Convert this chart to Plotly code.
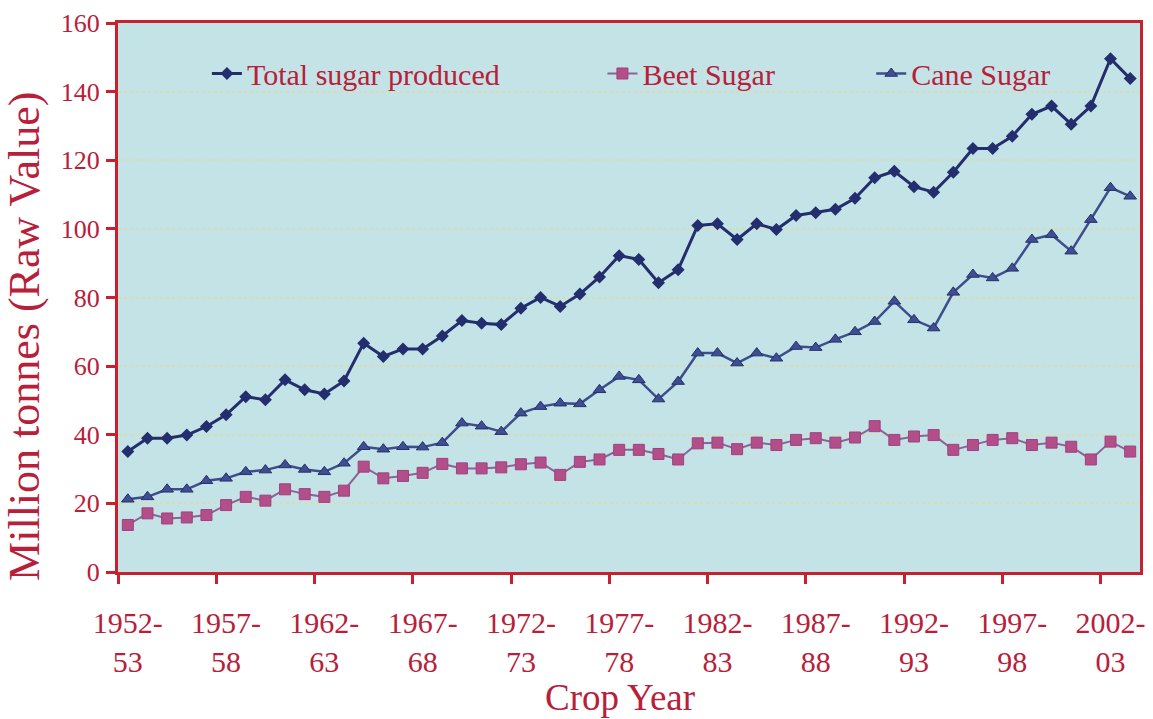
import plotly.graph_objects as go

# ---- data (million tonnes, raw value) ----
crop_years = [
    "1952-53", "1953-54", "1954-55", "1955-56", "1956-57", "1957-58", "1958-59", "1959-60",
    "1960-61", "1961-62", "1962-63", "1963-64", "1964-65", "1965-66", "1966-67", "1967-68",
    "1968-69", "1969-70", "1970-71", "1971-72", "1972-73", "1973-74", "1974-75", "1975-76",
    "1976-77", "1977-78", "1978-79", "1979-80", "1980-81", "1981-82", "1982-83", "1983-84",
    "1984-85", "1985-86", "1986-87", "1987-88", "1988-89", "1989-90", "1990-91", "1991-92",
    "1992-93", "1993-94", "1994-95", "1995-96", "1996-97", "1997-98", "1998-99", "1999-00",
    "2000-01", "2001-02", "2002-03", "2003-04",
]

total_sugar = [
    35.1, 39.0, 39.0, 39.9, 42.4, 45.8, 51.1, 50.2, 56.0, 53.1, 51.9, 55.7, 66.7,
    62.8, 65.0, 65.0, 68.8, 73.3, 72.5, 72.1, 76.9, 80.0, 77.4, 81.0, 86.0, 92.2,
    91.1, 84.3, 88.1, 101.0, 101.5, 96.9, 101.5, 99.8, 103.9, 104.7, 105.7, 108.9,
    114.9, 116.8, 112.3, 110.7, 116.5, 123.4, 123.4, 127.0, 133.4, 135.8, 130.5,
    135.8, 149.6, 143.8,
]

beet_sugar = [
    13.7, 17.1, 15.6, 15.9, 16.6, 19.5, 21.9, 20.8, 24.1, 22.7, 21.9, 23.7, 30.7,
    27.3, 28.0, 28.9, 31.5, 30.2, 30.2, 30.5, 31.4, 31.9, 28.3, 32.1, 32.8, 35.6,
    35.6, 34.4, 32.8, 37.5, 37.7, 35.8, 37.7, 37.0, 38.5, 39.0, 37.7, 39.2, 42.5,
    38.5, 39.5, 39.9, 35.6, 37.0, 38.5, 39.0, 37.0, 37.7, 36.5, 32.8, 38.0, 35.1,
]

cane_sugar = [
    21.2, 21.9, 24.1, 24.1, 26.6, 27.3, 29.2, 29.7, 31.2, 29.9, 29.2, 31.7, 36.5,
    35.8, 36.5, 36.4, 37.7, 43.4, 42.5, 40.9, 46.3, 48.2, 49.2, 49.0, 53.1, 57.0,
    56.0, 50.4, 55.5, 63.8, 63.8, 60.9, 63.8, 62.3, 65.7, 65.4, 67.8, 70.0, 73.0,
    78.9, 73.5, 71.1, 81.5, 86.7, 85.7, 88.5, 96.9, 98.3, 93.5, 102.7, 112.0, 109.5,
]

tick_categories = ["1952-53", "1957-58", "1962-63", "1967-68", "1972-73", "1977-78",
                   "1982-83", "1987-88", "1992-93", "1997-98", "2002-03"]
tick_labels = ["1952-<br>53", "1957-<br>58", "1962-<br>63", "1967-<br>68", "1972-<br>73",
               "1977-<br>78", "1982-<br>83", "1987-<br>88", "1992-<br>93", "1997-<br>98",
               "2002-<br>03"]

y_ticks = [0, 20, 40, 60, 80, 100, 120, 140, 160]

# category positions on a linear axis (one unit per crop year)
x_pos = list(range(len(crop_years)))
label_pos = [crop_years.index(c) for c in tick_categories]
boundary_pos = [p - 0.5 for p in label_pos]  # tick marks sit between categories

# ---- styling ----
FONT = "Liberation Serif, Times New Roman, serif"
RED = "#C8202E"
TEXT_RED = "#B8203A"
BG = "#C4E3E6"

fig = go.Figure()

fig.add_trace(go.Scatter(
    x=x_pos, y=total_sugar, name="Total sugar produced", mode="lines+markers",
    customdata=crop_years, hovertemplate="%{customdata}: %{y}<extra></extra>",
    line=dict(color="#232E6E", width=3),
    marker=dict(symbol="diamond", size=10, color="#232E6E"),
    legend="legend",
))
fig.add_trace(go.Scatter(
    x=x_pos, y=beet_sugar, name="Beet Sugar", mode="lines+markers",
    customdata=crop_years, hovertemplate="%{customdata}: %{y}<extra></extra>",
    line=dict(color="#8A6496", width=2),
    marker=dict(symbol="square", size=11, color="#B24E88",
                line=dict(color="#A04080", width=1)),
    legend="legend2",
))
fig.add_trace(go.Scatter(
    x=x_pos, y=cane_sugar, name="Cane Sugar", mode="lines+markers",
    customdata=crop_years, hovertemplate="%{customdata}: %{y}<extra></extra>",
    line=dict(color="#3E4E8C", width=2.5),
    marker=dict(symbol="triangle-up", size=11, color="#3E4E92",
                line=dict(color="#26306A", width=1)),
    legend="legend3",
))

legend_common = dict(
    orientation="h", yanchor="middle", y=0.908, xanchor="left",
    bgcolor="rgba(0,0,0,0)", borderwidth=0,
    font=dict(family=FONT, size=30, color=TEXT_RED),
)

fig.update_layout(
    width=1153, height=719,
    margin=dict(l=118, r=13, t=23, b=147),
    paper_bgcolor="white",
    plot_bgcolor=BG,
    showlegend=True,
    legend=dict(x=0.087, **legend_common),
    legend2=dict(x=0.474, **legend_common),
    legend3=dict(x=0.737, **legend_common),
    xaxis=dict(
        range=[-0.5, len(crop_years) - 0.5],
        tickmode="array", tickvals=label_pos, ticktext=tick_labels,
        tickangle=0, ticks="", automargin=False,
        minor=dict(tickmode="array", tickvals=boundary_pos, ticks="outside",
                   ticklen=9, tickwidth=3, tickcolor=RED, showgrid=False),
        showline=True, linecolor=RED, linewidth=3, mirror=True,
        showgrid=False, zeroline=False,
        ticklabelstandoff=22,
        tickfont=dict(family=FONT, size=30, color=TEXT_RED),
    ),
    yaxis=dict(
        range=[0, 160], automargin=False,
        tickmode="array", tickvals=y_ticks,
        ticks="outside", ticklen=9, tickwidth=3, tickcolor=RED,
        showline=True, linecolor=RED, linewidth=3, mirror=True,
        showgrid=True, gridcolor="#D9DCB4", gridwidth=2, griddash="dot",
        zeroline=False,
        ticklabelstandoff=1,
        tickfont=dict(family=FONT, size=26, color=TEXT_RED),
    ),
    annotations=[
        dict(text="Million tonnes (Raw Value)", textangle=-90,
             xref="paper", yref="paper", x=-0.091, y=0.43,
             xanchor="center", yanchor="middle", showarrow=False,
             font=dict(family=FONT, size=44, color=TEXT_RED)),
        dict(text="Crop Year",
             xref="paper", yref="paper", x=0.491, y=-0.2295,
             xanchor="center", yanchor="middle", showarrow=False,
             font=dict(family=FONT, size=37, color=TEXT_RED)),
    ],
)

# the page is photographed edge to edge: drop the default 8px body margin
fig.write_html("out.html",
               config={"displayModeBar": False},
               post_script="document.body.style.margin='0';document.body.style.overflow='hidden';")
